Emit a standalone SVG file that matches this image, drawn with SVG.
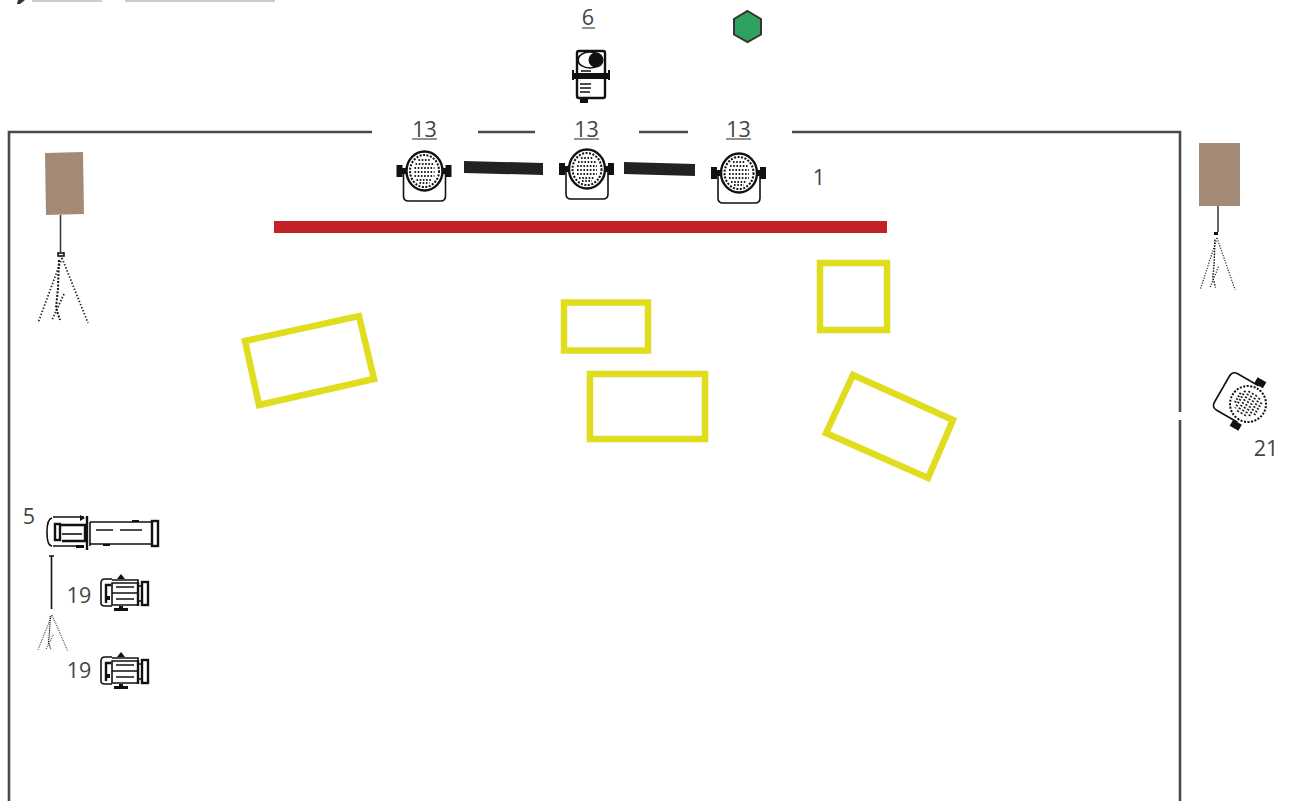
<svg xmlns="http://www.w3.org/2000/svg" width="1293" height="801" viewBox="0 0 1293 801">
<style>
.lbl{font-family:"Open Sans","Noto Sans","DejaVu Sans",sans-serif;font-size:21.500px;fill:#444}
.ul{stroke:#555;stroke-width:1.3;fill:none}
.wall{stroke:#4a4a4a;stroke-width:2.6;fill:none}
.truss{fill:#222}
.box{fill:none;stroke:#e0dc1e;stroke-width:6.500}
.spk{fill:#a38a77}
.ink{fill:none;stroke:#111;stroke-width:1.6}
.thick{fill:none;stroke:#111;stroke-width:2.4}
.blk{fill:#111}
.dot{fill:none;stroke:#222;stroke-width:1.8;stroke-dasharray:1.4 1.9}
.dash{fill:none;stroke:#111;stroke-width:2;stroke-dasharray:2 1.5}
.grid{fill:none;stroke:#222;stroke-width:2.2;stroke-dasharray:1.6 1.6}
</style>
<defs>
<g id="par">
<path class="ink" d="M-21 0V25Q-21 30-16 30H16Q21 30 21 25V0"/>
<ellipse rx="19" ry="20" fill="#fff"/>
<ellipse class="thick" rx="18" ry="19.500"/>
<ellipse class="dash" rx="14.500" ry="16"/>
<path class="grid" d="M-6-11H6M-9-7H9M-10-3H10M-10 1H10M-10 5H10M-8 9H8M-5 12H5"/>
<rect class="blk" x="-28" y="-6" width="6" height="12"/>
<rect class="blk" x="21" y="-6" width="6" height="12"/>
<rect class="blk" x="-23" y="-3" width="5" height="6"/>
<rect class="blk" x="18" y="-3" width="5" height="6"/>
</g>
<g id="tri">
<path class="dot" d="M0 0L-24 65M0 0L26 65M2 36L-10 62"/>
<path class="dash" d="M-3 2L-4 30L-6 50L-2 62"/>
</g>
<g id="fres">
<path class="ink" d="M-10-14H-17Q-21-14-21-10V10Q-21 13-17 13H-10"/>
<path class="thick" d="M-16 10V-8H-11"/>
<rect class="blk" x="-16" y="3" width="4" height="4"/>
<path class="ink" d="M-10-13H16V-10H-10V12H16V9"/>
<path class="ink" d="M-10 0H16M-6-6H12M-6 6H12"/>
<path class="thick" d="M16-11V13"/>
<rect class="thick" x="20" y="-11" width="6" height="23"/>
<path class="ink" d="M16-7H20M16 8H20"/>
<path class="blk" d="M-1-19L3-14H-5Z"/>
<rect class="blk" x="-3" y="13" width="4" height="3"/>
<rect class="blk" x="-8" y="15" width="14" height="3"/>
</g>
</defs>

<g id="connectors">
<path class="wall" d="M372 132H9V801"/>
<path class="wall" d="M478 132H535"/>
<path class="wall" d="M639 132H688"/>
<path class="wall" d="M792 132H1180V412"/>
<path class="wall" d="M1180 420V801"/>
</g>

<g id="truss-bars">
<path class="truss" d="M464 161L543 163V175L464 173Z"/>
<path class="truss" d="M624 162L695 164V176L624 174Z"/>
<rect id="stage-bar" x="274" y="221" width="613" height="12" fill="#c22128"/>
</g>

<g id="yellow-boxes">
<path id="box-a" class="box" d="M245 341L359 316L374 379L259 405Z"/>
<rect id="box-b" class="box" x="564" y="302.500" width="84" height="48"/>
<rect id="box-c" class="box" x="590" y="374" width="115" height="65"/>
<rect id="box-d" class="box" x="820" y="263" width="67" height="67"/>
<path id="box-e" class="box" d="M853 375L953 420L928 478L826 433Z"/>
</g>

<g id="cut-off-title" fill="#ccc"><rect x="32" y="0" width="70" height="2"/><rect x="125" y="0" width="150" height="2"/><path d="M18 0H25L20 4H17Z" fill="#333"/></g>

<g id="node-par1"><text class="lbl" x="424.500" y="137" text-anchor="middle">13</text><path class="ul" d="M412 139H437"/><use href="#par" x="424.500" y="171"/></g>
<g id="node-par2"><text class="lbl" x="586.500" y="137" text-anchor="middle">13</text><path class="ul" d="M574 139H599"/><use href="#par" x="587" y="169"/></g>
<g id="node-par3"><text class="lbl" x="738.500" y="137" text-anchor="middle">13</text><path class="ul" d="M726 139H751"/><use href="#par" x="739" y="173"/></g>
<g id="node-1"><text class="lbl" x="819" y="185" text-anchor="middle">1</text></g>

<g id="node-6">
<text class="lbl" x="588" y="25" text-anchor="middle">6</text><path class="ul" d="M582 28H595"/>
<rect class="thick" x="577" y="51" width="28" height="47" rx="2"/>
<ellipse class="ink" cx="590" cy="60" rx="12" ry="8"/>
<circle class="blk" cx="596" cy="60" r="7.500"/>
<rect class="blk" x="572" y="73" width="38" height="6"/>
<rect class="blk" x="572" y="70" width="2" height="10"/>
<rect class="blk" x="608" y="70" width="2" height="10"/>
<path class="ink" d="M581 71H591M580 84H591M580 88H591M580 92H590"/>
<rect class="blk" x="580" y="98" width="8" height="5"/>
</g>

<g id="node-hex"><path d="M747.500 11L761 19V34.500L747.500 42L734 34.500V19Z" fill="#2ea35f" stroke="#333" stroke-width="2"/></g>

<g id="node-speaker-left">
<path class="spk" d="M45 153L83 152L84 214L46 215Z"/>
<path d="M60.500 215V252" stroke="#333" stroke-width="1.500"/>
<rect class="ink" x="58" y="253" width="6" height="3"/>
<use href="#tri" x="62" y="258"/>
</g>

<g id="node-speaker-right">
<rect class="spk" x="1199" y="143" width="41" height="63"/>
<path d="M1218 206V232" stroke="#333" stroke-width="1.500"/>
<rect class="blk" x="1214" y="232" width="4" height="3"/>
<g transform="translate(1217 238) scale(.7 .8)"><use href="#tri"/></g>
</g>

<g id="node-21">
<g transform="translate(1248 404) rotate(120)"><path class="ink" d="M-21 0V24Q-21 30-15 30H15Q21 30 21 24V0"/><circle r="19" fill="#fff"/><circle class="dash" r="18"/><path class="grid" d="M-8-11H8M-11-7H11M-12-3H12M-12 1H12M-12 5H12M-10 9H10M-6 12H6"/><rect class="blk" x="-28" y="-5" width="7" height="10"/><rect class="blk" x="21" y="-5" width="7" height="10"/></g>
<text class="lbl" x="1266" y="456" text-anchor="middle">21</text>
</g>

<g id="node-5">
<text class="lbl" x="29" y="524" text-anchor="middle">5</text>
<path class="ink" d="M52 518Q47 519 47 532Q47 546 52 546M53 517H84M53 546H84"/>
<rect class="thick" x="55" y="524" width="5" height="16"/>
<path class="thick" d="M60 525H85V541H62"/>
<path class="ink" d="M62 534H82"/>
<path class="blk" d="M80 515L85 518L80 521Z"/>
<rect class="blk" x="76" y="545" width="8" height="3"/>
<path class="thick" d="M87 516V550"/>
<path class="ink" d="M90 522V546"/>
<path class="ink" d="M90 522H153M90 544H153"/>
<path class="ink" d="M96 530H113M120 530H142"/>
<rect class="thick" x="152" y="521" width="6" height="25"/>
<rect class="blk" x="132" y="520" width="7" height="2"/>
<rect class="blk" x="103" y="544" width="7" height="2"/>
<path class="ink" d="M49 556H54M51.500 556V609"/>
<g transform="translate(52 615) scale(.6 .55)"><use href="#tri"/></g>
</g>

<g id="node-19a"><text class="lbl" x="79" y="603" text-anchor="middle">19</text><use href="#fres" x="122" y="593"/></g>
<g id="node-19b"><text class="lbl" x="79" y="678" text-anchor="middle">19</text><use href="#fres" x="122" y="671"/></g>
</svg>
